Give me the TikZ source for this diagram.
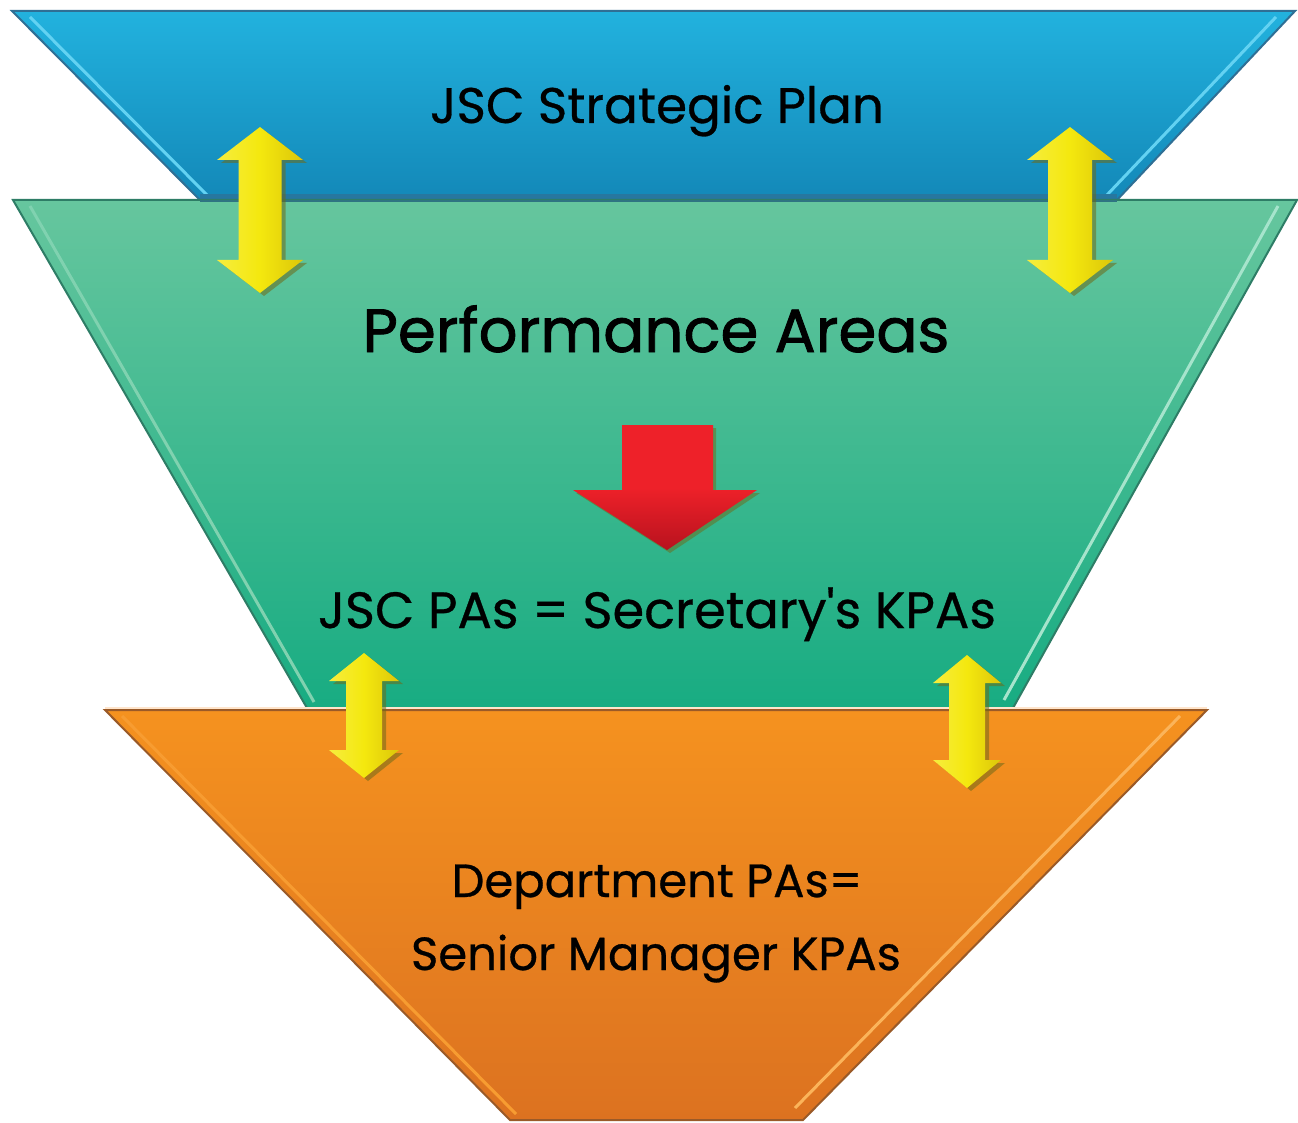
\documentclass[tikz,border=0pt]{standalone}
\usepackage{fontspec}
\setmainfont{Poppins}
\newfontfamily\labelfont[FakeBold=0.6]{Poppins}
\newfontfamily\titlefont[FakeBold=1.4]{Poppins}
\begin{document}
\definecolor{bluetop}{HTML}{22B2DE}
\definecolor{bluebot}{HTML}{1388B8}
\definecolor{blueedge}{HTML}{2F6F95}
\definecolor{bluehi}{HTML}{63D2F2}
\definecolor{greentop}{HTML}{66C69E}
\definecolor{greenbot}{HTML}{18AC82}
\definecolor{greenedge}{HTML}{2E7D66}
\definecolor{greenhi}{HTML}{A6E4CC}
\definecolor{orangetop}{HTML}{F5921F}
\definecolor{orangebot}{HTML}{DC7220}
\definecolor{orangeedge}{HTML}{9A5A28}
\definecolor{orangehi}{HTML}{FBB45A}
\definecolor{arrowyellow}{HTML}{F4E80E}
\definecolor{arrowyellowdk}{HTML}{DCC60A}
\definecolor{arrowshadow}{HTML}{6E6A18}
\definecolor{arrowred}{HTML}{EE2129}
\definecolor{arrowreddk}{HTML}{B8121E}
\tikzset{
  band/.style={line join=miter},
  label/.style={inner sep=0pt, text=black, anchor=base},
  linkarrow/.style={left color=arrowyellow!80!white, right color=arrowyellowdk, middle color=arrowyellow},
  linkshadow/.style={fill=arrowshadow, opacity=0.55},
}
% double-headed vertical arrow: centre x, top y, bottom y, shaft width, head width, head length
\newcommand\linkpath[6]{(#1,#2) -- ++(#5/2,#6) -- ++(-#5/2+#4/2,0) -- (#1+#4/2,#3-#6)
  -- ++(#5/2-#4/2,0) -- (#1,#3) -- ++(-#5/2,-#6) -- ++(#5/2-#4/2,0) -- (#1-#4/2,#2+#6)
  -- ++(-#5/2+#4/2,0) -- cycle}
\newcommand\linkarrow[6]{%
  \fill[linkshadow] [shift={(4,3)}] \linkpath{#1}{#2}{#3}{#4}{#5}{#6};
  \shade[linkarrow] \linkpath{#1}{#2}{#3}{#4}{#5}{#6};}
\begin{tikzpicture}[x=1pt,y=-1pt]
\useasboundingbox (0,0) rectangle (1298,1123);
\fill[white] (0,0) rectangle (1298,1123);

% top band
\shade[band, top color=bluetop, bottom color=bluebot]
  (12,11) coordinate (b1) -- (1295,11) coordinate (b2) -- (1117,200) coordinate (b3) -- (200,200) coordinate (b4) -- cycle;
\draw[blueedge, line width=2] (b4) -- (b1) -- (b2) -- (b3);
\draw[bluehi, line width=3] (30,17) -- (208,196);
\draw[bluehi, line width=3] (1276,17) -- (1106,196);
\draw[blueedge!70!bluebot, line width=5] (200,197) -- (1117,197);

% middle band
\shade[band, top color=greentop, bottom color=greenbot]
  (13,200) coordinate (g1) -- (1297,200) coordinate (g2) -- (1013,708) coordinate (g3) -- (307,708) coordinate (g4) -- cycle;
\draw[greenedge, line width=2] (g4) -- (g1) -- (g2) -- (g3);
\draw[greentop!60!greenhi, line width=3] (30,206) -- (314,702);
\draw[greenhi, line width=3] (1278,206) -- (1004,700);
\draw[blueedge!60!greenedge, line width=2.5] (200,201) -- (1117,201);

% bottom band
\shade[band, top color=orangetop, bottom color=orangebot]
  (105,710) coordinate (o1) -- (1207,710) coordinate (o2) -- (803,1120) coordinate (o3) -- (510,1120) coordinate (o4) -- cycle;
\draw[orangeedge, line width=2] (o1) -- (o2) -- (o3) -- (o4) -- cycle;
\draw[orangehi, line width=3] (1180,716) -- (795,1108);
\draw[orangetop!70!orangehi, line width=3] (122,716) -- (516,1114);
\draw[white!80!orange, line width=2] (105,708) -- (1207,708);

% linking arrows
\linkarrow{260}{127}{293}{43}{86}{33}
\linkarrow{1070}{127}{293}{44}{86}{33}
\linkarrow{364}{653}{778}{36}{70}{28}
\linkarrow{967}{655}{788}{36}{68}{28}

% downward arrow
\fill[arrowshadow, opacity=0.5] [shift={(3,3)}]
  (622,425) -- (713,425) -- (713,490) -- (757,490) -- (667,550) -- (573,490) -- (622,490) -- cycle;
\shade[top color=arrowred, bottom color=arrowreddk, middle color=arrowred]
  (622,425) -- (713,425) -- (713,490) -- (757,490) -- (667,550) -- (573,490) -- (622,490) -- cycle;

% labels
\node[label, font=\labelfont\fontsize{50}{60}\selectfont] (plan) at (657,123) {JSC Strategic Plan};
\node[label, font=\titlefont\fontsize{61}{72}\selectfont] (areas) at (656,352) {Performance Areas};
\node[label, font=\labelfont\fontsize{51}{60}\selectfont] (pas) at (657,628) {JSC PAs = Secretary\char"27 s KPAs};
\node[label, font=\labelfont\fontsize{46.5}{56}\selectfont] (dept) at (657,897) {Department PAs=};
\node[label, font=\labelfont\fontsize{46.5}{56}\selectfont] (senior) at (656,970) {Senior Manager KPAs};
\end{tikzpicture}
\end{document}
